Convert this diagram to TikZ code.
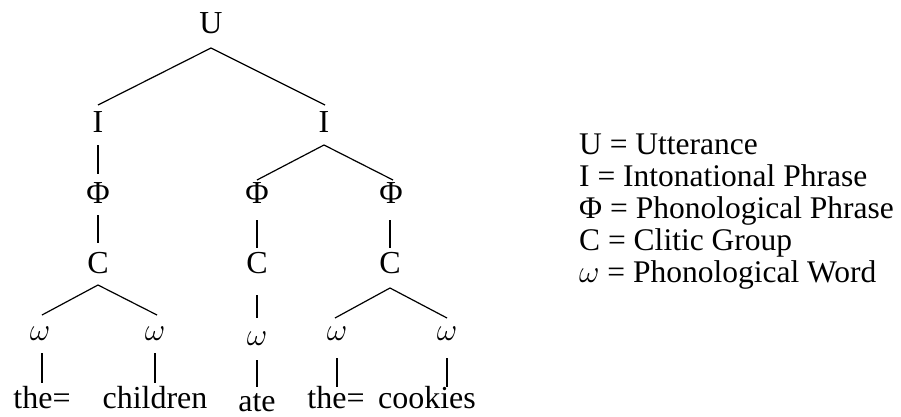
\documentclass[tikz,border=0pt]{standalone}
\usepackage{graphicx}
\usepackage{fontspec}
\setmainfont{Liberation Serif}
\usetikzlibrary{calc}
\newcommand{\bigom}{\scalebox{1.27}{$\omega$}}
\tikzset{
  lab/.style={anchor=base, inner sep=0pt, font=\fontsize{32}{36}\selectfont},
  leg/.style={anchor=base west, inner sep=0pt, font=\fontsize{31.5}{36}\selectfont},
  diag/.style={line width=1.2pt},
  vert/.style={line width=2pt},
}
\begin{document}
\begin{tikzpicture}[x=1pt,y=-1pt]
\useasboundingbox (0,0) rectangle (901,417);
% tree nodes (placed at baseline)
\node[lab] (U)  at (211,34) {U};
\node[lab] (Il) at (98,132) {I};
\node[lab] (Ir) at (324,132) {I};
\node[lab] (Pl) at (98,203) {Φ};
\node[lab] (Pm) at (257,203) {Φ};
\node[lab] (Pr) at (391,203) {Φ};
\node[lab] (Cl) at (98,273) {C};
\node[lab] (Cm) at (257,273) {C};
\node[lab] (Cr) at (390,273) {C};
\node[lab] (w1) at (40,340) {\bigom};
\node[lab] (w2) at (155,340) {\bigom};
\node[lab] (w3) at (257,345) {\bigom};
\node[lab] (w4) at (337,340) {\bigom};
\node[lab] (w5) at (447,340) {\bigom};
\node[lab] (t1) at (42,408) {the=};
\node[lab] (t2) at (155,408) {children};
\node[lab] (t3) at (257,411) {ate};
\node[lab] (t4) at (336,408) {the=};
\node[lab] (t5) at (427,408) {cookies};
% connectors
\draw[diag] ($(U.base)+(0,14)$) -- ($(Il.base)+(0,-27)$);
\draw[diag] ($(U.base)+(0,14)$) -- ($(Ir.base)+(1,-27)$);
\draw[vert] ($(Il.base)+(0,13)$) -- ($(Pl.base)+(0,-29)$);
\draw[diag] ($(Ir.base)+(0,13)$) -- ($(Pm.base)+(0,-23)$);
\draw[diag] ($(Ir.base)+(0,13)$) -- ($(Pr.base)+(2,-23)$);
\draw[vert] ($(Pl.base)+(0,12)$) -- ($(Cl.base)+(0,-30)$);
\draw[vert] ($(Pm.base)+(0,17)$) -- ($(Cm.base)+(0,-25)$);
\draw[vert] ($(Pr.base)+(-1,17)$) -- ($(Cr.base)+(0,-25)$);
\draw[diag] ($(Cl.base)+(0,12)$) -- ($(w1.base)+(2,-25)$);
\draw[diag] ($(Cl.base)+(0,12)$) -- ($(w2.base)+(2,-25)$);
\draw[vert] ($(Cm.base)+(0,22)$) -- ($(w3.base)+(0,-27)$);
\draw[diag] ($(Cr.base)+(0,15)$) -- ($(w4.base)+(-2,-22)$);
\draw[diag] ($(Cr.base)+(0,15)$) -- ($(w5.base)+(0,-22)$);
\draw[vert] ($(w1.base)+(2,13)$) -- ($(t1.base)+(0,-25)$);
\draw[vert] ($(w2.base)+(0,13)$) -- ($(t2.base)+(0,-25)$);
\draw[vert] ($(w3.base)+(0,15)$) -- ($(t3.base)+(0,-24)$);
\draw[vert] ($(w4.base)+(0,18)$) -- ($(t4.base)+(1,-21)$);
\draw[vert] ($(w5.base)+(0,18)$) -- ($(t5.base)+(20,-21)$);
% legend
\node[leg] (l1) at (579,154) {U = Utterance};
\node[leg] (l2) at (579,186) {I = Intonational Phrase};
\node[leg] (l3) at (579,218) {Φ = Phonological Phrase};
\node[leg] (l4) at (579,250) {C = Clitic Group};
\node[leg] (l5) at (579,282) {\bigom{} = Phonological Word};
\end{tikzpicture}
\end{document}
